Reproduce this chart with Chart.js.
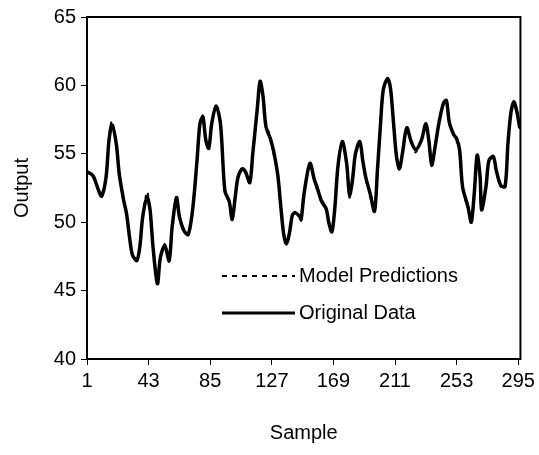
<!DOCTYPE html>
<html>
<head>
<meta charset="utf-8">
<script src="https://cdn.jsdelivr.net/npm/chart.js@4.4.1/dist/chart.umd.min.js"></script>
<style>
html, body { margin: 0; padding: 0; background: #fff; }
</style>
</head>
<body>
<canvas id="chart" width="539" height="455"></canvas>
<script>
// ================= DATA =================
const samples = [1, 5, 9, 11, 14, 16, 18, 21, 23, 26, 28, 30, 32, 35, 37, 39, 42, 44, 46, 49,
    51, 54, 57, 59, 62, 64, 67, 70, 73, 76, 78, 80, 82, 84, 86, 89, 92, 95, 98, 100,
    102, 104, 107, 109, 112, 114, 117, 119, 121, 123, 126, 128, 131, 133, 135, 137, 139, 141, 143, 146,
    147, 149, 153, 156, 158, 161, 164, 166, 168, 170, 172, 175, 178, 180, 182, 184, 187, 189, 191, 194,
    197, 199, 201, 203, 206, 208, 210, 212, 214, 216, 219, 222, 225, 229, 232, 234, 236, 238, 241, 244,
    246, 248, 251, 253, 255, 257, 260, 261, 263, 265, 267, 269, 270, 273, 275, 278, 280, 283, 286, 288,
    290, 292, 294, 296];

const originalData = [53.7, 53.4, 52.3, 51.9, 53.3, 56.0, 57.1, 55.7, 53.5, 51.6, 50.6, 48.9, 47.6, 47.2, 48.2, 50.4, 51.8, 50.9, 48.2, 45.5,
    47.4, 48.3, 47.2, 49.6, 51.8, 50.4, 49.4, 49.1, 50.9, 54.5, 57.2, 57.7, 56.0, 55.4, 57.2, 58.5, 57.2, 52.3, 51.5, 50.2,
    51.8, 53.3, 53.9, 53.7, 52.9, 55.0, 58.2, 60.3, 59.2, 57.0, 56.1, 55.3, 53.5, 51.3, 49.2, 48.4, 49.2, 50.5, 50.7, 50.4,
    50.2, 52.1, 54.3, 53.1, 52.5, 51.5, 51.0, 49.9, 49.3, 51.1, 54.0, 55.9, 54.3, 52.0, 53.1, 55.0, 55.9, 54.5, 53.3, 52.1,
    50.8, 53.8, 57.0, 59.7, 60.5, 59.7, 57.2, 54.8, 53.9, 55.0, 56.9, 55.9, 55.3, 56.0, 57.2, 56.0, 54.2, 55.3, 57.3, 58.7,
    58.9, 57.3, 56.4, 56.1, 55.3, 52.6, 51.4, 51.0, 50.0, 52.1, 54.9, 53.3, 50.9, 52.6, 54.5, 54.8, 53.8, 52.7, 52.6, 55.8,
    58.0, 58.8, 58.1, 56.9];

const predictedData = [53.6, 53.5, 52.4, 51.8, 53.2, 56.1, 57.4, 55.6, 53.6, 51.5, 50.7, 48.8, 47.6, 47.3, 48.1, 50.5, 52.2, 50.8, 48.3, 45.6,
    47.3, 48.4, 47.1, 49.7, 51.7, 50.5, 49.3, 49.2, 50.8, 54.6, 57.1, 57.8, 55.9, 55.5, 57.1, 58.6, 57.1, 52.4, 51.4, 50.3,
    51.7, 53.4, 54.0, 53.6, 53.0, 54.9, 58.3, 60.2, 59.1, 57.1, 56.3, 55.1, 53.6, 51.2, 49.3, 48.4, 49.1, 50.6, 50.6, 50.5,
    50.1, 52.2, 54.2, 53.2, 52.3, 51.7, 50.9, 50.0, 49.3, 51.2, 53.9, 55.8, 54.4, 51.8, 53.2, 54.9, 55.8, 54.7, 53.1, 52.2,
    50.9, 53.7, 57.1, 59.6, 60.4, 59.8, 57.1, 54.9, 53.8, 55.1, 56.8, 56.0, 55.1, 56.1, 57.1, 56.1, 54.1, 55.4, 57.2, 58.6,
    58.8, 57.4, 56.3, 56.2, 55.1, 52.7, 51.2, 51.1, 50.1, 52.0, 54.8, 53.4, 51.0, 52.5, 54.6, 54.7, 53.9, 52.6, 52.7, 55.7,
    57.9, 58.7, 58.2, 56.8];

const xTickValues = [1, 43, 85, 127, 169, 211, 253, 295];
const legendLabels = ["Model Predictions", "Original Data"];

// ================= STYLE =================
const FONT = { family: "'Liberation Sans', Arial, sans-serif", size: 20 };

// box around the plot area + legend inside it
const framePlugin = {
    id: "frame",
    afterDatasetsDraw(chart) {
        const { ctx, chartArea: a } = chart;
        ctx.save();
        ctx.strokeStyle = "#000";
        ctx.lineWidth = 2;
        ctx.strokeRect(a.left, a.top, a.right - a.left, a.bottom - a.top);

        // legend
        ctx.font = FONT.size + "px " + FONT.family;
        ctx.fillStyle = "#000";
        ctx.textBaseline = "middle";

        ctx.lineWidth = 2;
        ctx.setLineDash([5, 5]);
        ctx.beginPath();
        ctx.moveTo(222, 276);
        ctx.lineTo(295, 276);
        ctx.stroke();
        ctx.fillText(legendLabels[0], 299, 276);

        ctx.setLineDash([]);
        ctx.lineWidth = 3;
        ctx.beginPath();
        ctx.moveTo(222, 313);
        ctx.lineTo(295, 313);
        ctx.stroke();
        ctx.fillText(legendLabels[1], 299, 313);
        ctx.restore();
    }
};

new Chart(document.getElementById("chart"), {
    type: "line",
    data: {
        datasets: [
            {
                label: legendLabels[0],
                data: samples.map((s, i) => ({ x: s, y: predictedData[i] })),
                borderColor: "#000",
                borderWidth: 2,
                borderDash: [4, 4],
                pointRadius: 0,
                tension: 0.3,
                fill: false
            },
            {
                label: legendLabels[1],
                data: samples.map((s, i) => ({ x: s, y: originalData[i] })),
                borderColor: "#000",
                borderWidth: 3.5,
                pointRadius: 0,
                tension: 0.3,
                fill: false
            }
        ]
    },
    options: {
        responsive: false,
        animation: false,
        layout: { padding: { top: 16, right: 13, left: 0, bottom: 0 } },
        plugins: {
            legend: { display: false },
            tooltip: { enabled: false }
        },
        scales: {
            x: {
                type: "linear",
                min: 1,
                max: 296.5,
                afterBuildTicks: s => { s.ticks = xTickValues.map(v => ({ value: v })); },
                afterFit: s => { s.height = 96; },
                ticks: { color: "#000", font: FONT, padding: 4, maxRotation: 0, autoSkip: false },
                grid: { drawOnChartArea: false, color: "#000", lineWidth: 1, tickLength: 6 },
                border: { display: false },
                title: { display: true, text: "Sample", color: "#000", font: FONT, padding: { top: 4, bottom: 10 } }
            },
            y: {
                min: 40,
                max: 65,
                afterFit: s => { s.width = 87; },
                ticks: { stepSize: 5, color: "#000", font: FONT, padding: 5 },
                grid: { drawOnChartArea: false, color: "#000", lineWidth: 1, tickLength: 6 },
                border: { display: false },
                title: { display: true, text: "Output", color: "#000", font: FONT, padding: { top: 10, bottom: 4 } }
            }
        }
    },
    plugins: [framePlugin]
});
</script>
</body>
</html>
